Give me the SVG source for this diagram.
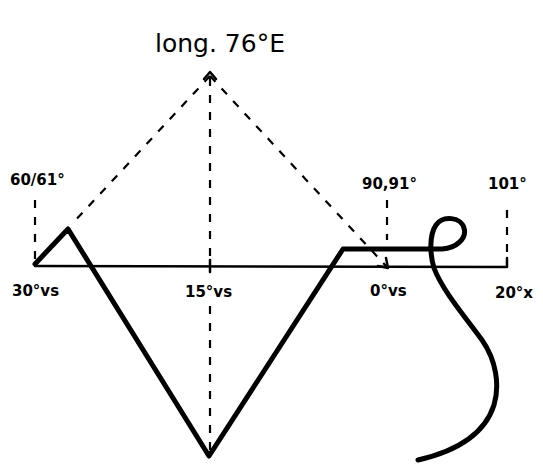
<svg xmlns="http://www.w3.org/2000/svg" width="543" height="464" viewBox="0 0 543 464">
<style>
.t{font-family:"DejaVu Sans","Liberation Sans",sans-serif;font-weight:bold;fill:#000;font-size:15px}
.title{font-family:"DejaVu Sans","Liberation Sans",sans-serif;font-weight:normal;fill:#000;font-size:25px}
.d{fill:none;stroke:#000;stroke-width:2.2;stroke-dasharray:8 9}
.thin{fill:none;stroke:#000;stroke-width:2.5;stroke-linecap:round;stroke-linejoin:round}
.thick{fill:none;stroke:#000;stroke-width:5;stroke-linecap:round;stroke-linejoin:round}
</style>
<rect width="543" height="464" fill="#fff"/>
<g id="title"><text class="title" x="220" y="52" text-anchor="middle">long. 76°E</text></g>
<g id="labels">
<text class="t" x="10" y="185">60/61°</text>
<text class="t" x="362" y="189">90,91°</text>
<text class="t" x="488" y="189">101°</text>
<text class="t" x="12" y="296">30°vs</text>
<text class="t" x="185" y="297">15°vs</text>
<text class="t" x="370" y="296">0°vs</text>
<text class="t" x="495" y="298">20°x</text>
</g>
<g id="connectors">
<path class="d" d="M210 76 L72 224"/>
<path class="d" d="M210 76 L386 266"/>
<path class="d" d="M210 78 L210 266"/>
<path class="d" d="M210 306 L210 456"/>
<path class="d" d="M35 200 L35 262"/>
<path class="d" d="M387 200 L387 240"/>
<path class="d" d="M507 210 L507 258"/>
<path class="thin" d="M204 79 L210 72 L216 79"/>
<path class="thin" d="M378 266 L388 268 L386 258"/>
<path class="thin" d="M35 266 L507 267 L507 258"/>
<path class="thin" d="M210 260 L210 272"/>
</g>
<g id="track">
<path class="thick" d="M35 264 L68 229 L209 456 L343 249 L442 249 C457 248 467 238 464 228 C461 217 443 215 436 225 C429 235 430 255 434 268 C442 290 466 318 482 340 C496 360 500 385 494 405 C486 430 462 450 418 460"/>
</g>
</svg>
